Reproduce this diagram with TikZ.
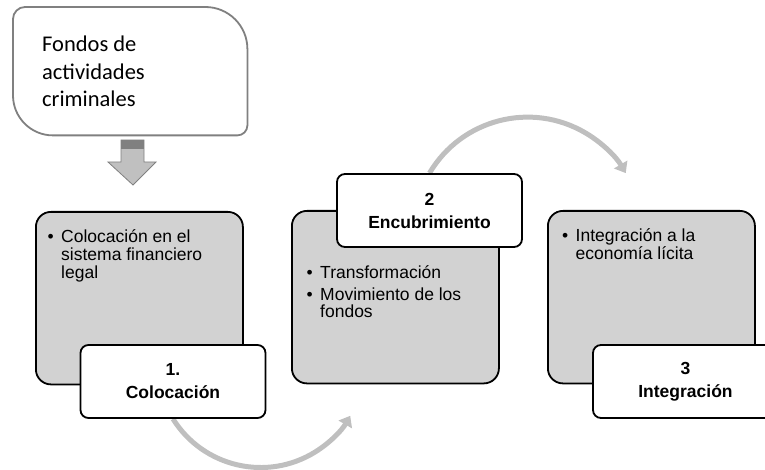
\documentclass[tikz,border=0pt]{standalone}
\usepackage{fontspec}
\setmainfont{Liberation Sans}
\newfontfamily\calfont{Carlito}
\usetikzlibrary{arrows.meta}
\definecolor{boxgray}{RGB}{210,210,210}
\definecolor{arcgray}{RGB}{191,191,191}
\definecolor{framegray}{RGB}{128,128,128}
\definecolor{arrowfill}{RGB}{192,192,192}
\definecolor{arrowdark}{RGB}{128,128,128}
\pgfdeclarelayer{bg}
\pgfsetlayers{bg,main}
\begin{document}
\begin{tikzpicture}[x=1pt,y=-1pt,
  graybox/.style={draw=black, line width=1.8pt, fill=boxgray, rounded corners=15pt,
    minimum width=207pt, minimum height=172.5pt, inner sep=0pt, anchor=north west},
  labelbox/.style={draw=black, line width=1.8pt, fill=white, rounded corners=8pt,
    minimum width=185pt, minimum height=73pt, inner sep=0pt, align=center,
    font=\fontsize{17.5}{23}\selectfont\bfseries},
  bodyline/.style={anchor=base west, inner sep=0pt, font=\fontsize{17.5}{17.5}\selectfont},
  srcline/.style={anchor=base west, inner sep=0pt, font=\calfont\fontsize{22.5}{27}\selectfont},
  srcframe/.style={draw=framegray, line width=1.8pt, fill=white},
  blockarrow/.style={fill=arrowfill, draw=framegray, line width=0.8pt},
  cycarrow/.style={draw=arcgray, line width=5pt, -{Triangle[length=10pt,width=15pt]}},
]
\clip (0,0) rectangle (765,470);

% source box
\node[minimum width=234pt, minimum height=128pt, inner sep=0pt, anchor=north west] (src) at (13,7) {};
\draw[srcframe] ([xshift=12pt]src.north west) -- ([xshift=-42pt]src.north east)
  arc[start angle=-90,end angle=0,radius=42] -- ([yshift=10pt]src.south east)
  arc[start angle=0,end angle=90,radius=10] -- ([xshift=40pt]src.south west)
  arc[start angle=90,end angle=180,radius=40] -- ([yshift=-12pt]src.north west)
  arc[start angle=180,end angle=270,radius=12] -- cycle;
\node[srcline] (s1) at (42,52) {Fondos de};
\node[srcline] (s2) at (42,80) {actividades};
\node[srcline] (s3) at (42,107) {criminales};

% block arrow down
\draw[blockarrow] (121,140) -- (144,140) -- (144,162) -- (156,162) -- (133,185) -- (108,162) -- (121,162) -- cycle;
\fill[arrowdark] (121.4,140.4) rectangle (143.6,149);

% gray boxes
\node[graybox] (b1) at (35,211) {};
\node[graybox] (b2) at (291,210) {};
\node[graybox] (b3) at (547,210) {};

% label boxes
\node[labelbox] (l1) at (173,381.5) {1.\\Colocación};
\node[labelbox] (l2) at (429.5,210.5) {2\\Encubrimiento};
\node[labelbox] (l3) at (685.5,381.5) {3\\Integración};

% body texts
\node[bodyline] (t1a) at (47.5,243) {\makebox[13.5pt][l]{•}Colocación en el};
\node[bodyline] (t1b) at (61,261) {sistema financiero};
\node[bodyline] (t1c) at (61,278) {legal};

\node[bodyline] (t2a) at (306.5,278) {\makebox[13.5pt][l]{•}Transformación};
\node[bodyline] (t2b) at (306.5,300) {\makebox[13.5pt][l]{•}Movimiento de los};
\node[bodyline] (t2c) at (320,317) {fondos};

\node[bodyline] (t3a) at (562,242) {\makebox[13.5pt][l]{•}Integración a la};
\node[bodyline] (t3b) at (575.5,259.5) {economía lícita};

% cycle arrows
\begin{pgfonlayer}{bg}
\draw[cycarrow] (l1.south) arc[start angle=148, end angle=30, radius=103.4];
\draw[cycarrow] (l2.north) arc[start angle=-149.4, end angle=-30.6, radius=114];
\end{pgfonlayer}
\end{tikzpicture}
\end{document}
